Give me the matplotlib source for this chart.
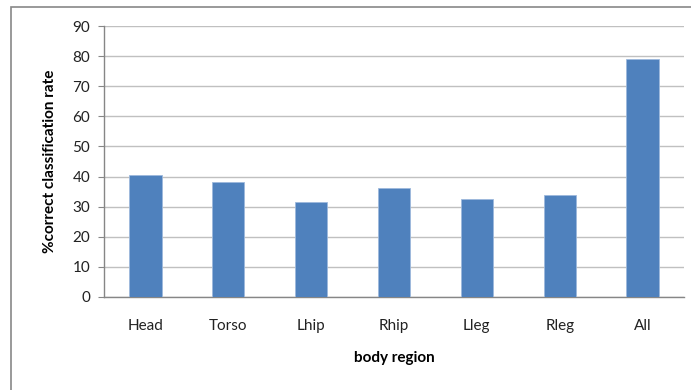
import matplotlib.pyplot as plt
from matplotlib.patches import Rectangle

plt.rcParams['font.family'] = ['Lato', 'DejaVu Sans']

# data
regions = ["Head", "Torso", "Lhip", "Rhip", "Lleg", "Rleg", "All"]
rates = [40.5, 38.2, 31.6, 36.2, 32.4, 34.0, 79.2]
yticks = [0, 10, 20, 30, 40, 50, 60, 70, 80, 90]

fig = plt.figure(figsize=(6.91, 3.9), dpi=100)
W, H = 691, 390
ax = fig.add_axes([104 / W, 1 - 297 / H, 580 / W, 271 / H])

ax.bar(range(len(regions)), rates, width=0.39, color="#4f81bd",
       edgecolor="#9db9dc", linewidth=0.6, zorder=3)

ax.set_xlim(-0.5, len(regions) - 0.5)
ax.set_ylim(0, 90)
ax.set_yticks(yticks)
ax.set_xticks(range(len(regions)))
ax.set_xticklabels(regions)
ax.grid(axis="y", color="#c0c0c0", linewidth=1.0, zorder=0)

for s in ["top", "right"]:
    ax.spines[s].set_visible(False)
for s in ["left", "bottom"]:
    ax.spines[s].set_color("#868686")
    ax.spines[s].set_linewidth(1.0)

ax.tick_params(axis="y", length=4, color="#868686", labelsize=11,
               labelcolor="#222222", pad=6)
ax.tick_params(axis="x", length=0, labelsize=11, labelcolor="#222222",
               pad=16)

ax.set_xlabel("body region", fontsize=11, fontweight="bold", labelpad=13)
ax.set_ylabel("%correct classification rate", fontsize=11,
              fontweight="bold", labelpad=11)

# chart frame like the original (left and top edges visible)
fig.patches.append(Rectangle((11 / W, -0.05), 1.2, 1 - 7 / H + 0.05,
                             transform=fig.transFigure, fill=False,
                             edgecolor="#878787", linewidth=1.2))

fig.savefig("out.png", dpi=100)
